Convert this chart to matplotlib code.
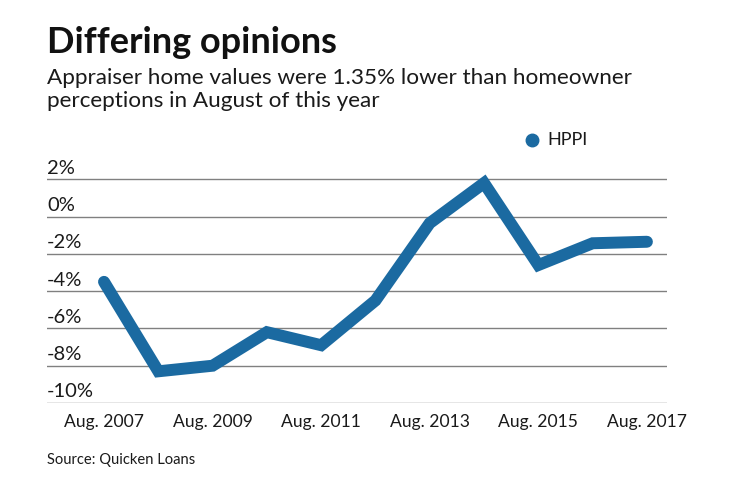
import matplotlib
matplotlib.use('Agg')
import matplotlib.pyplot as plt

plt.rcParams['font.family'] = ['Lato', 'DejaVu Sans']

# HPPI, August of each year
years = [2007, 2008, 2009, 2010, 2011, 2012, 2013, 2014, 2015, 2016, 2017]
hppi = [-3.5, -8.3, -8.0, -6.2, -6.9, -4.5, -0.35, 1.8, -2.6, -1.43, -1.35]
yticks = [2, 0, -2, -4, -6, -8, -10]
xticks = [2007, 2009, 2011, 2013, 2015, 2017]
xlabels = ['Aug. %d' % y for y in xticks]

blue = '#1b6aa1'

fig = plt.figure(figsize=(7.4, 4.82), dpi=100)
ax = fig.add_axes([47/740, 79/482, 620/740, 233/482])

for v in yticks:
    ax.axhline(v, color='#808080', lw=1.0, zorder=1)
    ax.text(2005.95, v + 0.3, '%d%%' % v, fontsize=14.5, ha='left', va='baseline', color='#1a1a1a')

ax.plot(years, hppi, color=blue, lw=8.6, solid_capstyle='round', solid_joinstyle='miter', zorder=3, clip_on=False)

ax.set_xlim(2005.95, 2017.37)
ax.set_ylim(-10, 2.5)
ax.set_xticks(xticks)
ax.set_xticklabels(xlabels, fontsize=12.6, color='#1a1a1a')
ax.set_yticks([])
ax.tick_params(axis='x', length=0, pad=8)
for s in ax.spines.values():
    s.set_visible(False)

fig.text(47/740, 1 - 53/482, 'Differing opinions', fontsize=26, fontweight='bold', color='#111111', va='baseline')
fig.text(47/740, 1 - 84/482, 'Appraiser home values were 1.35% lower than homeowner', fontsize=16.2, color='#1a1a1a', va='baseline')
fig.text(47/740, 1 - 107/482, 'perceptions in August of this year', fontsize=16.2, color='#1a1a1a', va='baseline')

# legend
fig.lines.append(plt.Line2D([532/740], [1 - 140/482], marker='o', markersize=9, color=blue, transform=fig.transFigure, lw=0))
fig.text(547/740, 1 - 140/482, 'HPPI', fontsize=13, color='#1a1a1a', va='center')

fig.text(47/740, 1 - 460/482, 'Source: Quicken Loans', fontsize=10.6, color='#1a1a1a', va='center')

fig.savefig('out.png', dpi=100)
